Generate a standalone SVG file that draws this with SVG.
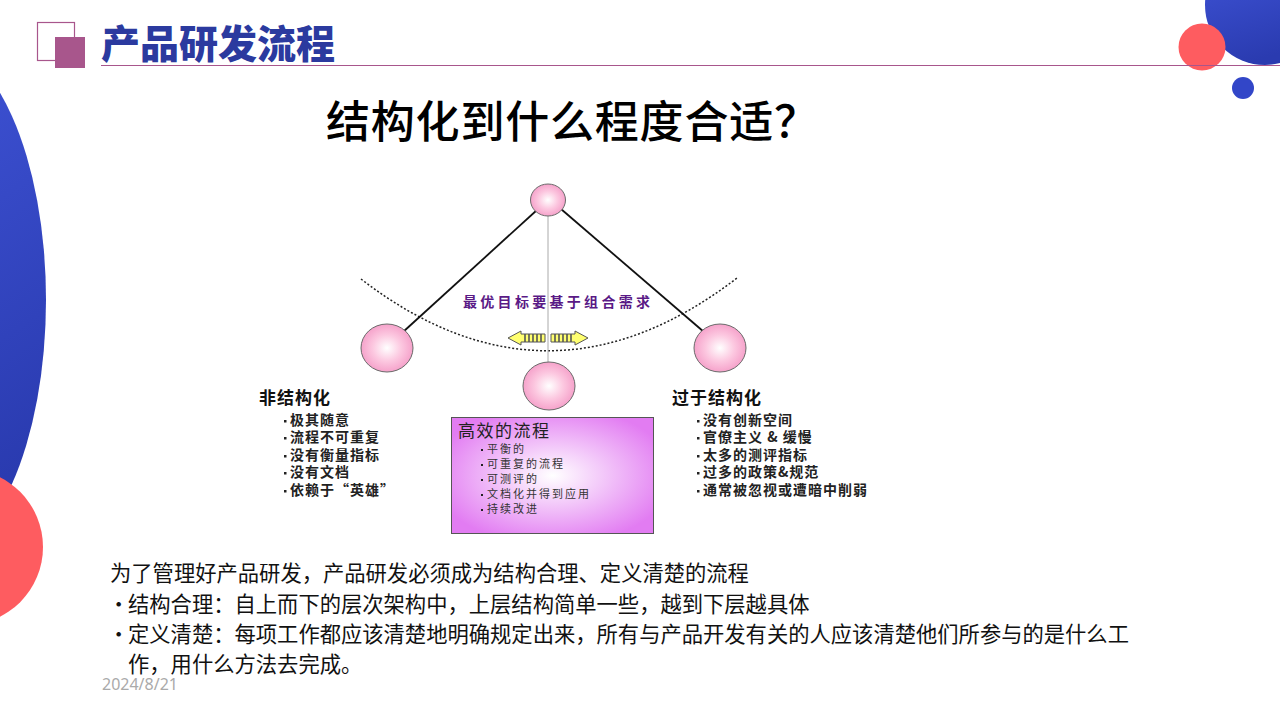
<svg xmlns="http://www.w3.org/2000/svg" width="1280" height="720" viewBox="0 0 1280 720">
<defs>
<linearGradient id="blueG" x1="0" y1="0" x2="0.3" y2="1">
<stop offset="0" stop-color="#4257dc"/>
<stop offset="1" stop-color="#2a3bb0"/>
</linearGradient>
<radialGradient id="ball" cx="0.5" cy="0.5" r="0.55">
<stop offset="0" stop-color="#ffffff"/>
<stop offset="0.5" stop-color="#fcc8e0"/>
<stop offset="1" stop-color="#f49ac6"/>
</radialGradient>
<radialGradient id="boxG" cx="0.5" cy="0.5" r="0.6">
<stop offset="0" stop-color="#ffffff"/>
<stop offset="1" stop-color="#e27cf2"/>
</radialGradient>
<g id="arrowL">
<path d="M0,0 L13,-7 L13,-4 L37,-4 L37,4 L13,4 L13,7 Z" fill="#ffff70" stroke="#555" stroke-width="1"/>
<path d="M17,-4 V4 M21,-4 V4 M25,-4 V4 M29,-4 V4 M33,-4 V4" stroke="#555" stroke-width="1.6"/>
</g>
</defs>
<style>
.cj{font-family:"Noto Sans CJK SC","Noto Sans",sans-serif}
.head{font-size:17px;font-weight:700;fill:#111;letter-spacing:1px}
.item{font-size:14px;font-weight:700;fill:#222;letter-spacing:1px}
.bitem{font-size:11px;fill:#333;letter-spacing:2px}
.body{font-size:21.3px;fill:#111}
.ballS{fill:url(#ball);stroke:#6a6a6a;stroke-width:1}
.bl{fill:#222}
</style>
<rect width="1280" height="720" fill="#ffffff"/>

<!-- decorative shapes -->
<ellipse cx="-70" cy="300" rx="116" ry="260" fill="url(#blueG)"/>
<circle cx="-35" cy="547" r="78" fill="#fe5c60"/>
<circle cx="1265" cy="5" r="60" fill="url(#blueG)"/>
<circle cx="1202" cy="47" r="23.5" fill="#fe5c60"/>
<circle cx="1243" cy="88" r="11" fill="#3246c8"/>

<!-- header -->
<g id="header">
<rect x="37.5" y="22.5" width="37" height="38" fill="none" stroke="#a8568c" stroke-width="1.2"/>
<rect x="55" y="37" width="30" height="31" fill="#a8568c"/>
<line x1="101" y1="65.5" x2="1280" y2="65.5" stroke="#a8568c" stroke-width="1.2"/>
<text x="101" y="58" class="cj" font-size="39" font-weight="900" fill="#2b3a9f">产品研发流程</text>
</g>

<text x="326" y="138" class="cj" font-size="44" font-weight="500" fill="#000" letter-spacing="0.8">结构化到什么程度合适？</text>

<!-- connectors -->
<g id="connectors">
<path d="M361,279 Q548,423 737,278" fill="none" stroke="#222" stroke-width="1.5" stroke-dasharray="2,2"/>
<line x1="548" y1="216" x2="548" y2="364" stroke="#aaa" stroke-width="1"/>
<line x1="537" y1="210" x2="403" y2="332" stroke="#111" stroke-width="1.8"/>
<line x1="561" y1="209" x2="704" y2="332" stroke="#111" stroke-width="1.8"/>
</g>

<text x="463" y="307" class="cj" font-size="14" font-weight="700" fill="#5a1a86" letter-spacing="3.3">最优目标要基于组合需求</text>

<g id="arrows">
<use href="#arrowL" transform="translate(508,338)"/>
<use href="#arrowL" transform="translate(588,338) scale(-1,1)"/>
</g>

<g id="ball-top"><ellipse cx="548" cy="200" rx="17.5" ry="16" class="ballS"/></g>
<g id="ball-left"><ellipse cx="387" cy="348" rx="26" ry="24" class="ballS"/></g>
<g id="ball-right"><ellipse cx="720" cy="348" rx="26" ry="24" class="ballS"/></g>
<g id="ball-bottom"><ellipse cx="549" cy="386" rx="26" ry="24" class="ballS"/></g>

<g id="left-list" class="cj">
<text x="259" y="404" class="head">非结构化</text>
<rect x="284" y="420" width="2.5" height="2.5" class="bl"/>
<rect x="284" y="437" width="2.5" height="2.5" class="bl"/>
<rect x="284" y="455" width="2.5" height="2.5" class="bl"/>
<rect x="284" y="472" width="2.5" height="2.5" class="bl"/>
<rect x="284" y="490" width="2.5" height="2.5" class="bl"/>
<text x="290" y="425" class="item">极其随意</text>
<text x="290" y="442" class="item">流程不可重复</text>
<text x="290" y="460" class="item">没有衡量指标</text>
<text x="290" y="477" class="item">没有文档</text>
<text x="290" y="495" class="item">依赖于“英雄”</text>
</g>

<g id="center-box" class="cj">
<rect x="451.5" y="417.5" width="202" height="116" fill="url(#boxG)" stroke="#555" stroke-width="1"/>
<text x="458" y="437" font-size="17" fill="#222" letter-spacing="1.5">高效的流程</text>
<rect x="481" y="449" width="2" height="2" class="bl"/>
<rect x="481" y="464" width="2" height="2" class="bl"/>
<rect x="481" y="479" width="2" height="2" class="bl"/>
<rect x="481" y="494" width="2" height="2" class="bl"/>
<rect x="481" y="509" width="2" height="2" class="bl"/>
<text x="487" y="453" class="bitem">平衡的</text>
<text x="487" y="468" class="bitem">可重复的流程</text>
<text x="487" y="483" class="bitem">可测评的</text>
<text x="487" y="498" class="bitem">文档化并得到应用</text>
<text x="487" y="513" class="bitem">持续改进</text>
</g>

<g id="right-list" class="cj">
<text x="672" y="404" class="head" font-size="18">过于结构化</text>
<rect x="697" y="420" width="2.5" height="2.5" class="bl"/>
<rect x="697" y="437" width="2.5" height="2.5" class="bl"/>
<rect x="697" y="455" width="2.5" height="2.5" class="bl"/>
<rect x="697" y="472" width="2.5" height="2.5" class="bl"/>
<rect x="697" y="490" width="2.5" height="2.5" class="bl"/>
<text x="703" y="425" class="item">没有创新空间</text>
<text x="703" y="442" class="item">官僚主义 &amp; 缓慢</text>
<text x="703" y="460" class="item">太多的测评指标</text>
<text x="703" y="477" class="item">过多的政策&amp;规范</text>
<text x="703" y="495" class="item">通常被忽视或遭暗中削弱</text>
</g>

<g id="body-text" class="cj">
<text x="110" y="581" class="body">为了管理好产品研发，产品研发必须成为结构合理、定义清楚的流程</text>
<text x="108" y="612" class="body">•</text>
<text x="128" y="612" class="body">结构合理：自上而下的层次架构中，上层结构简单一些，越到下层越具体</text>
<text x="108" y="642" class="body">•</text>
<text x="128" y="642" class="body">定义清楚：每项工作都应该清楚地明确规定出来，所有与产品开发有关的人应该清楚他们所参与的是什么工</text>
<text x="128" y="672" class="body">作，用什么方法去完成。</text>
</g>
<text x="102" y="690" font-family="'Noto Sans','Liberation Sans',sans-serif" font-size="16" fill="#aaa">2024/8/21</text>
</svg>
